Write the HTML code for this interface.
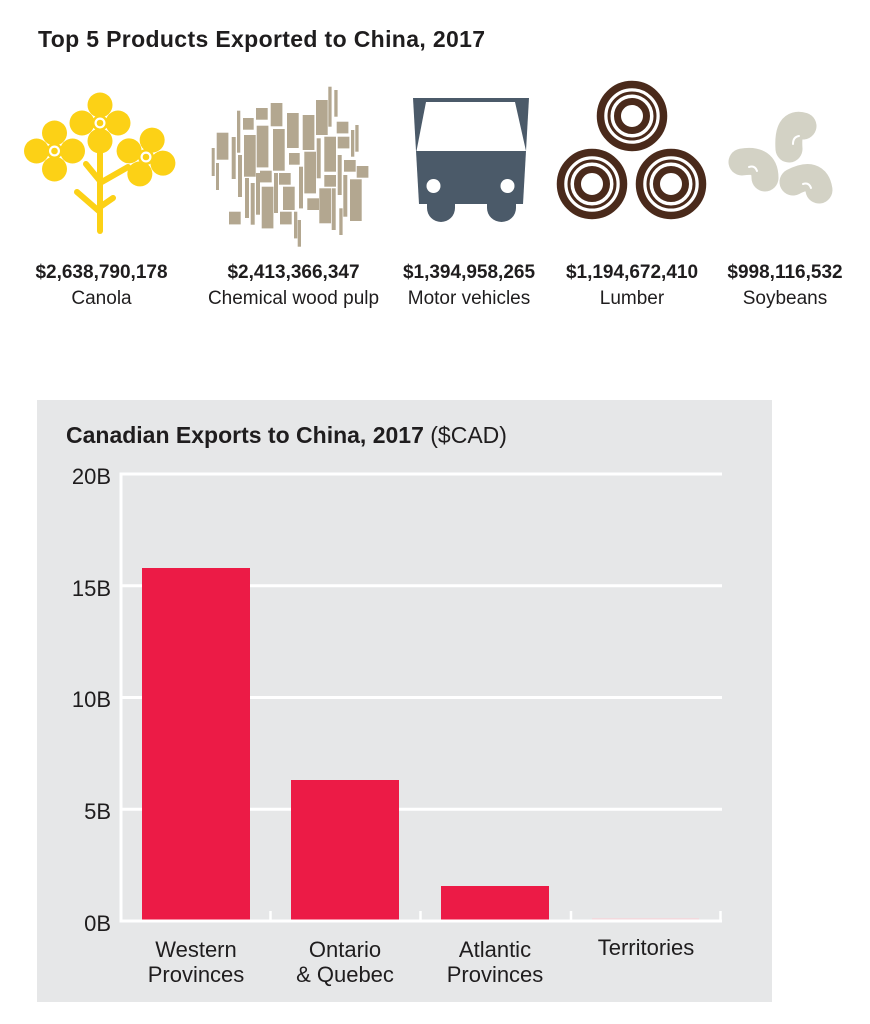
<!DOCTYPE html>
<html>
<head>
<meta charset="utf-8">
<style>
  html,body{margin:0;padding:0;background:#fff;}
  svg{display:block;}
  text{font-family:"Liberation Sans", Arial, sans-serif; fill:#1f1d1e;}
</style>
</head>
<body>
<svg width="870" height="1024" viewBox="0 0 870 1024" xmlns="http://www.w3.org/2000/svg">
  <rect width="870" height="1024" fill="#fff"/>

  <text x="38" y="47" font-weight="bold" font-size="23" letter-spacing="0.35">Top 5 Products Exported to China, 2017</text>

  <g fill="#fcd116">
    <g stroke="#fcd116" stroke-width="6" stroke-linecap="round" fill="none">
      <line x1="100" y1="140" x2="100" y2="231"/>
      <line x1="100" y1="212" x2="77" y2="192"/>
      <line x1="100" y1="207" x2="113" y2="198"/>
      <line x1="100" y1="181" x2="86" y2="164"/>
      <line x1="100" y1="183" x2="128" y2="167"/>
    </g>
    <circle cx="100" cy="105" r="12.5"/>
    <circle cx="82" cy="123" r="12.5"/>
    <circle cx="118" cy="123" r="12.5"/>
    <circle cx="100" cy="141" r="12.5"/>
    <circle cx="100" cy="123" r="8"/>
    <circle cx="54.5" cy="133" r="12.5"/>
    <circle cx="36.5" cy="151" r="12.5"/>
    <circle cx="72.5" cy="151" r="12.5"/>
    <circle cx="54.5" cy="169" r="12.5"/>
    <circle cx="54.5" cy="151" r="8"/>
    <g transform="rotate(20 146 157)">
      <circle cx="146" cy="139" r="12.5"/>
      <circle cx="128" cy="157" r="12.5"/>
      <circle cx="164" cy="157" r="12.5"/>
      <circle cx="146" cy="175" r="12.5"/>
      <circle cx="146" cy="157" r="8"/>
    </g>
  </g>
  <g fill="none" stroke="#fff" stroke-width="2.2">
    <circle cx="100" cy="123" r="4.4"/>
    <circle cx="54.5" cy="151" r="4.4"/>
    <circle cx="146" cy="157" r="4.4"/>
  </g>

  <g fill="#b3a790">
    <rect x="211.7" y="148" width="3" height="28"/>
    <rect x="216" y="163" width="3" height="27"/>
    <rect x="216.7" y="132.7" width="11.7" height="27"/>
    <rect x="231.7" y="137" width="4" height="42"/>
    <rect x="237" y="110.7" width="3.3" height="42"/>
    <rect x="229" y="211.7" width="11.7" height="12.7"/>
    <rect x="238" y="155" width="4" height="42"/>
    <rect x="243" y="118" width="10.7" height="11.7"/>
    <rect x="244" y="135" width="11.7" height="41.7"/>
    <rect x="245" y="178" width="4" height="40"/>
    <rect x="250.7" y="183" width="4" height="41.7"/>
    <rect x="256" y="108" width="11.7" height="11.7"/>
    <rect x="256.7" y="125.7" width="11.7" height="41.7"/>
    <rect x="256" y="173" width="4" height="41.7"/>
    <rect x="260" y="170.7" width="11.7" height="11.7"/>
    <rect x="261.7" y="186.7" width="11.7" height="41.7"/>
    <rect x="270.7" y="103" width="11.7" height="23.3"/>
    <rect x="273" y="129" width="11.7" height="41.7"/>
    <rect x="274" y="173" width="4" height="40"/>
    <rect x="279" y="173" width="11.7" height="11.7"/>
    <rect x="280" y="211.7" width="11.7" height="12.7"/>
    <rect x="283" y="186.7" width="11.7" height="23.3"/>
    <rect x="287" y="113" width="11.7" height="35"/>
    <rect x="289" y="153" width="10.7" height="11.7"/>
    <rect x="294" y="211.7" width="3.3" height="26.7"/>
    <rect x="297.7" y="220" width="3.3" height="26.7"/>
    <rect x="299" y="166.7" width="4" height="41.7"/>
    <rect x="302.7" y="115" width="11.7" height="35"/>
    <rect x="304.3" y="151.7" width="11.7" height="41.7"/>
    <rect x="307.3" y="198.3" width="11.7" height="11.7"/>
    <rect x="316" y="100" width="11.7" height="35"/>
    <rect x="316.7" y="138.3" width="4" height="40"/>
    <rect x="319.3" y="188.3" width="11.7" height="35"/>
    <rect x="324.3" y="136.7" width="11.7" height="35"/>
    <rect x="324.3" y="175" width="11.7" height="11.7"/>
    <rect x="328.3" y="86.7" width="3.3" height="40"/>
    <rect x="331.7" y="188.3" width="4" height="41.7"/>
    <rect x="334.3" y="90" width="3.3" height="26.7"/>
    <rect x="336.7" y="121.7" width="11.7" height="11.7"/>
    <rect x="337.7" y="136.7" width="11.7" height="11.7"/>
    <rect x="337.7" y="155" width="4" height="40"/>
    <rect x="339.3" y="208.3" width="3.3" height="26.7"/>
    <rect x="343.3" y="175" width="4" height="41.7"/>
    <rect x="344" y="160" width="11.7" height="11.7"/>
    <rect x="351" y="130" width="3.3" height="26.7"/>
    <rect x="355.3" y="125" width="3.3" height="26.7"/>
    <rect x="350" y="179.3" width="11.7" height="41.7"/>
    <rect x="356.7" y="166" width="11.7" height="11.7"/>
  </g>

  <g fill="#4b5a69">
    <polygon points="413,98 529,98 523,204 419,204"/>
    <path d="M427,204 L455,204 L455,208 A14,14 0 0 1 427,208 Z"/>
    <path d="M487,204 L516,204 L516,208 A14.5,14 0 0 1 487,208 Z"/>
  </g>
  <polygon points="426,102 515,102 526,151 416.5,151" fill="#fff"/>
  <circle cx="433.5" cy="186" r="7" fill="#fff"/>
  <circle cx="507.5" cy="186" r="7" fill="#fff"/>

  <g fill="#fff" stroke="#4a2a1b">
    <circle cx="632" cy="116" r="31.5" stroke-width="7.5"/>
    <circle cx="632" cy="116" r="23" stroke-width="3" fill="none"/>
    <circle cx="632" cy="116" r="14.5" stroke-width="7"/>
    <circle cx="592" cy="184" r="31.5" stroke-width="7.5"/>
    <circle cx="592" cy="184" r="23" stroke-width="3" fill="none"/>
    <circle cx="592" cy="184" r="14.5" stroke-width="7"/>
    <circle cx="671" cy="184" r="31.5" stroke-width="7.5"/>
    <circle cx="671" cy="184" r="23" stroke-width="3" fill="none"/>
    <circle cx="671" cy="184" r="14.5" stroke-width="7"/>
  </g>

  <g fill="none" stroke="#d3d2c5" stroke-width="27" stroke-linecap="round">
    <path d="M803,126 Q787,121 789,149"/>
    <path d="M742,162 Q765,158 765,178"/>
    <path d="M793,182 Q816,170 819,190"/>
  </g>
  <g fill="none" stroke="#fff" stroke-width="2" stroke-linecap="round">
    <path d="M799,136 Q793,137 793,144"/>
    <path d="M749,167 Q755,165 757,171"/>
    <path d="M803,184 Q809,182 811,188"/>
  </g>

  <g font-size="19" font-weight="bold" text-anchor="middle">
    <text x="101.5" y="278">$2,638,790,178</text>
    <text x="293.5" y="278">$2,413,366,347</text>
    <text x="469" y="278">$1,394,958,265</text>
    <text x="632" y="278">$1,194,672,410</text>
    <text x="785" y="278">$998,116,532</text>
  </g>
  <g font-size="19" text-anchor="middle">
    <text x="101.5" y="304">Canola</text>
    <text x="293.5" y="304">Chemical wood pulp</text>
    <text x="469" y="304">Motor vehicles</text>
    <text x="632" y="304">Lumber</text>
    <text x="785" y="304">Soybeans</text>
  </g>

  <rect x="37" y="400" width="735" height="602" fill="#e6e7e8"/>
  <text x="66" y="443" font-size="23"><tspan font-weight="bold">Canadian Exports to China, 2017</tspan> ($CAD)</text>

  <g stroke="#fff" stroke-width="3">
    <line x1="121" y1="474" x2="722" y2="474"/>
    <line x1="121" y1="585.75" x2="722" y2="585.75"/>
    <line x1="121" y1="697.5" x2="722" y2="697.5"/>
    <line x1="121" y1="809.25" x2="722" y2="809.25"/>
    <line x1="121" y1="472.5" x2="121" y2="922.5"/>
  </g>

  <g fill="#ec1b46">
    <rect x="142" y="568" width="108" height="352"/>
    <rect x="291" y="780" width="108" height="140"/>
    <rect x="441" y="886" width="108" height="34"/>
  </g>
  <rect x="592" y="918" width="107" height="2" fill="#f2d9dd"/>

  <g stroke="#fff">
    <line x1="121" y1="921" x2="722" y2="921" stroke-width="3"/>
    <line x1="270.5" y1="911" x2="270.5" y2="921" stroke-width="2.5"/>
    <line x1="420.5" y1="911" x2="420.5" y2="921" stroke-width="2.5"/>
    <line x1="571" y1="911" x2="571" y2="921" stroke-width="2.5"/>
    <line x1="720.5" y1="911" x2="720.5" y2="921" stroke-width="2.5"/>
  </g>

  <g font-size="22" text-anchor="end">
    <text x="111" y="484">20B</text>
    <text x="111" y="596">15B</text>
    <text x="111" y="707">10B</text>
    <text x="111" y="819">5B</text>
    <text x="111" y="931">0B</text>
  </g>

  <g font-size="22" text-anchor="middle">
    <text x="196" y="957">Western</text>
    <text x="196" y="982">Provinces</text>
    <text x="345" y="957">Ontario</text>
    <text x="345" y="982">&amp; Quebec</text>
    <text x="495" y="957">Atlantic</text>
    <text x="495" y="982">Provinces</text>
    <text x="646" y="955">Territories</text>
  </g>
</svg>
</body>
</html>
